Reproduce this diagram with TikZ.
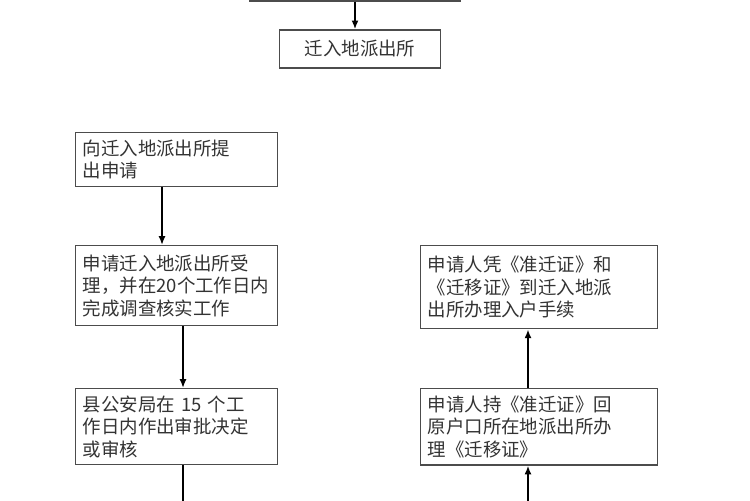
\documentclass[tikz,border=0pt]{standalone}
\usepackage{fontspec}
\newfontfamily\cjk{Noto Sans CJK SC}
\usetikzlibrary{arrows.meta}
\tikzset{
    stepbox/.style={draw=black!70, thick, fill=white, font=\cjk\fontsize{10.5}{12.8}\selectfont, text=black!80, align=left, inner sep=4pt},
    flow/.style={very thick, -{Latex[length=5pt,width=4pt]}}
}
\begin{document}
\begin{tikzpicture}[x=0.02cm, y=-0.02cm]
    \useasboundingbox (0,0) rectangle (750,500);

    % top row
    \node [stepbox, minimum width=4.2cm, minimum height=1.2cm] (prev) at (355,-29) {};
    \node [stepbox, minimum width=3.22cm, minimum height=0.76cm, align=center] (office) at (360,49) {迁入地派出所};

    % left column
    \node [stepbox, text width=3.76cm, minimum height=1.06cm, anchor=north west] (apply) at (75,132) {向迁入地派出所提\\出申请};
    \node [stepbox, text width=3.76cm, minimum height=1.6cm, anchor=north west] (accept) at (75,245) {申请迁入地派出所受\\理，并在20个工作日内\\完成调查核实工作};
    \node [stepbox, text width=3.76cm, minimum height=1.44cm, anchor=north west] (county) at (75,388) {县公安局在 15 个工\\作日内作出审批决定\\或审核};

    % right column
    \node [stepbox, text width=4.46cm, minimum height=1.66cm, anchor=north west] (settle) at (420,245) {申请人凭《准迁证》和\\《迁移证》到迁入地派\\出所办理入户手续};
    \node [stepbox, text width=4.46cm, minimum height=1.44cm, anchor=north west] (permit) at (420,388) {申请人持《准迁证》回\\原户口所在地派出所办\\理《迁移证》};

    \coordinate (lend) at (183,505);
    \coordinate (rstart) at (528,505);

    \draw [flow] (prev.south) -- (prev.south |- office.north);
    \draw [flow] (apply.south -| 162,0) -- (accept.north -| 162,0);
    \draw [flow] (accept.south -| 183,0) -- (county.north -| 183,0);
    \draw [very thick] (county.south -| lend) -- (lend);
    \draw [flow] (rstart) -- (permit.south -| rstart);
    \draw [flow] (permit.north -| rstart) -- (settle.south -| rstart);
\end{tikzpicture}
\end{document}
